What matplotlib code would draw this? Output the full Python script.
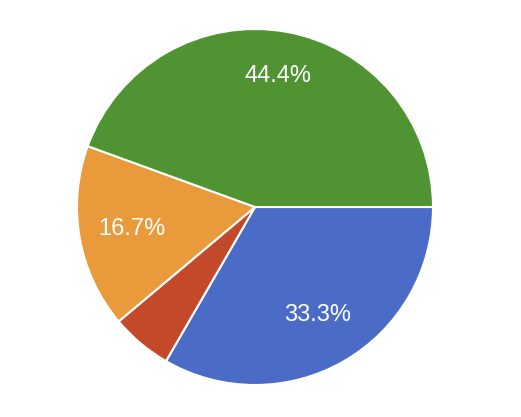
import numpy as np
import matplotlib.pyplot as plt

# Slice data (clockwise from 3 o'clock)
labels = ['Blue', 'Red', 'Orange', 'Green']
values = [6, 1, 3, 8]
colors = ['#4a6cc6', '#c4492a', '#e99a3a', '#4f9332']

plt.rcParams['font.family'] = ['Liberation Sans', 'DejaVu Sans']

fig = plt.figure(figsize=(5.21, 4.17), dpi=100)
# center (255, 207) px, radius 178 px
W, H = 521, 417
cx, cy, r = 255, 207, 178
ax = fig.add_axes([(cx - r) / W, 1 - (cy + r) / H, 2 * r / W, 2 * r / H])


def fmt(p):
    return f'{p:.1f}%' if p > 10 else ''


wedges, texts, autotexts = ax.pie(
    values, colors=colors, startangle=0, counterclock=False,
    autopct=fmt, pctdistance=0.7, radius=1,
    wedgeprops=dict(edgecolor='white', linewidth=1.5),
    textprops=dict(color='white', fontsize=17))

# big slice label sits a bit further out
x, y = autotexts[3].get_position()
autotexts[3].set_position((x * 0.75 / 0.7, y * 0.75 / 0.7))

ax.set_xlim(-1, 1)
ax.set_ylim(-1, 1)
ax.axis('off')

fig.savefig('out.png', dpi=100, facecolor='white')
